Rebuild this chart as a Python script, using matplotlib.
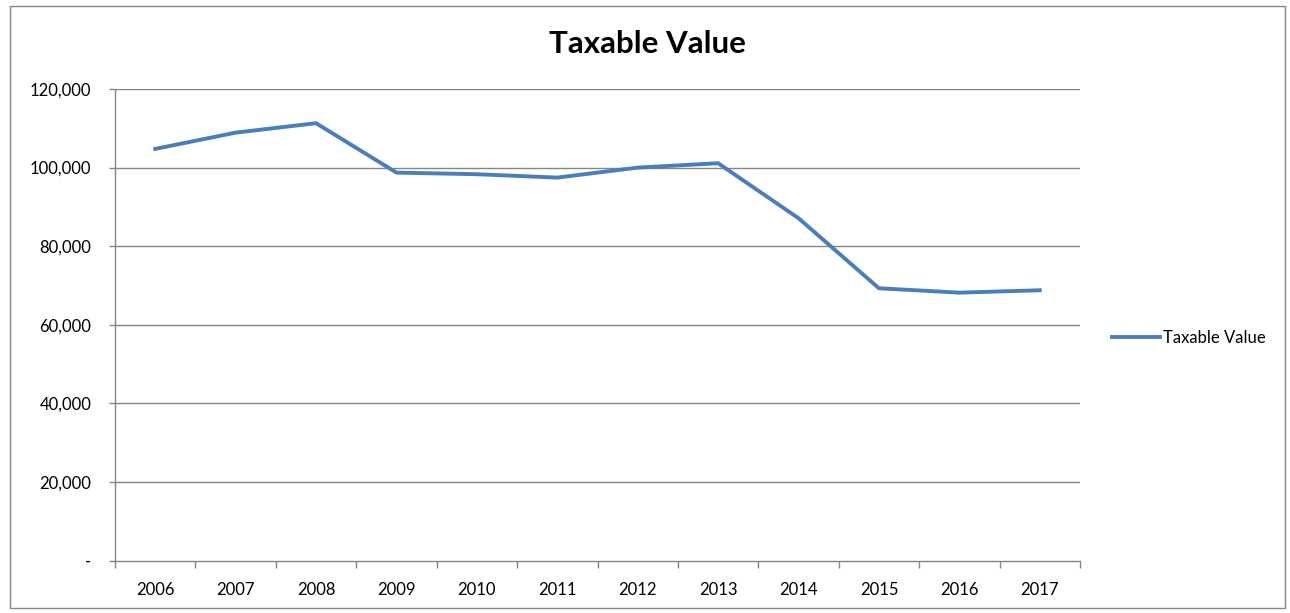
import matplotlib
matplotlib.use("Agg")
import matplotlib.pyplot as plt
from matplotlib.patches import Rectangle
from matplotlib.lines import Line2D

years = ["2006", "2007", "2008", "2009", "2010", "2011", "2012", "2013", "2014", "2015", "2016", "2017"]
taxable_value = [104760, 108900, 111300, 98730, 98320, 97460, 100000, 101120, 87120, 69310, 68190, 68800]
yticks = [0, 20000, 40000, 60000, 80000, 100000, 120000]
ytick_labels = ["-", "20,000", "40,000", "60,000", "80,000", "100,000", "120,000"]

plt.rcParams['font.family'] = ['Lato', 'DejaVu Sans']

fig = plt.figure(figsize=(12.9, 6.13), dpi=100)
fig.patches.append(Rectangle((10/1290, 5/613), 1275/1290, 602/613, transform=fig.transFigure,
                             fill=False, edgecolor='#868686', linewidth=1.0))

ax = fig.add_axes([115/1290, (613-560.7)/613, (1080-115)/1290, (560.7-89)/613])
x = list(range(len(years)))
line, = ax.plot(x, taxable_value, color='#4A7EBB', linewidth=2.8, solid_joinstyle='miter')

ax.set_xlim(-0.5, len(years) - 0.5)
ax.set_ylim(0, 120000)
ax.set_yticks(yticks)
ax.set_yticklabels(ytick_labels, fontsize=12)
ax.set_xticks(x)
ax.set_xticklabels(years, fontsize=12)
ax.tick_params(axis='x', length=0, pad=15)
ax.set_xticks([i - 0.5 for i in range(len(years) + 1)], minor=True)
ax.tick_params(axis='x', which='minor', length=5, color='#868686', width=1)
ax.tick_params(axis='y', length=4.5, color='#868686', width=1, pad=12.5)

for v in yticks[1:]:
    ax.axhline(v, color='#868686', linewidth=1.0, zorder=0)

for s in ['top', 'right']:
    ax.spines[s].set_visible(False)
for s in ['left', 'bottom']:
    ax.spines[s].set_color('#868686')
    ax.spines[s].set_linewidth(1.0)

fig.text(647/1290, 1 - 44/613, "Taxable Value", ha='center', va='center', fontsize=22.5, fontweight='bold')

leg = fig.legend([Line2D([0], [0], color='#4A7EBB', linewidth=2.8)], ["Taxable Value"],
                 loc='center left', bbox_to_anchor=(1097/1290, 1 - 338/613), frameon=False,
                 fontsize=12, handlelength=2.9, handletextpad=0.15)

fig.savefig("out.png", dpi=100)
